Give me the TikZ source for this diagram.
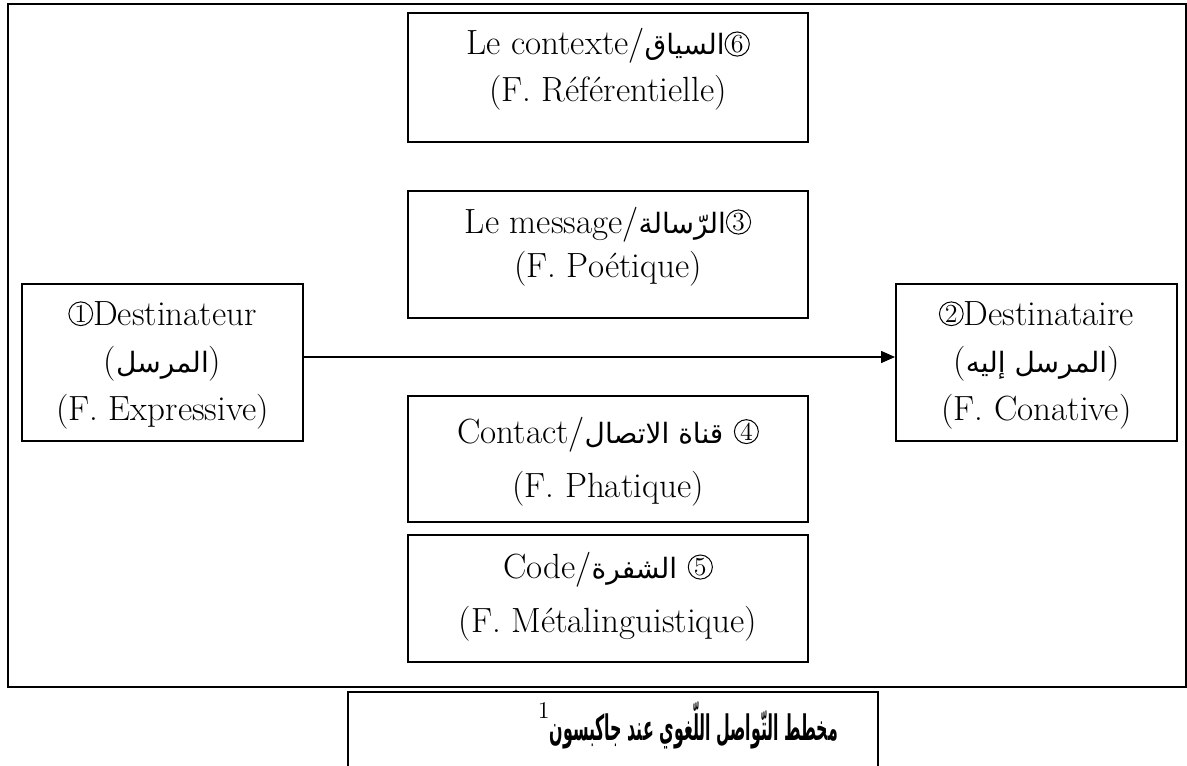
\documentclass[tikz,border=0pt]{standalone}
\usepackage{fontspec}
\usepackage{graphicx}
\usetikzlibrary{arrows.meta}
\TeXXeTstate=1
\newfontfamily\arabicfont[Script=Arabic,Scale=0.8]{DejaVu Sans}
\newfontfamily\capfont[Script=Arabic]{DejaVu Sans}
\newcommand\ar[1]{{\arabicfont\beginR #1\endR}}
% circled figure drawn as a small ring round a digit
\newcommand\cn[1]{\tikz[baseline={([yshift=-1.3pt]cnum.base)}]\node[circle, draw,
  line width=0.5pt, inner sep=0.4pt, font=\fontsize{13}{13}\selectfont] (cnum) {#1};}

\begin{document}
\begin{tikzpicture}[x=0.5pt,y=-0.5pt,
  box/.style={draw, line width=1pt, inner sep=0pt},
  txt/.style={inner sep=0pt, anchor=base, font=\fontsize{17.5}{20}\selectfont},
  link/.style={line width=0.75pt, -{Triangle[length=7pt,width=6pt]}}]
\useasboundingbox (0,0) rectangle (1187,765);

% outer frame
\draw[line width=1pt] (8,4) rectangle (1186,687);

% boxes of the six factors
\node[box, minimum width=200pt, minimum height=64.5pt] (ctx) at (608,77.5) {};
\node[box, minimum width=200pt, minimum height=63.5pt] (msg) at (608,254.5) {};
\node[box, minimum width=140.5pt, minimum height=78.5pt] (src) at (162.5,362.5) {};
\node[box, minimum width=140.5pt, minimum height=78.5pt] (dst) at (1036.5,362.5) {};
\node[box, minimum width=200pt, minimum height=63pt] (cnt) at (608,459) {};
\node[box, minimum width=200pt, minimum height=63.5pt] (code) at (608,598.5) {};

% texts, one node per line
\node[txt] (ctx1) at (608,55) {Le contexte/\ar{السياق}\cn{6}};
\node[txt] (ctx2) at (608,102) {(F. Référentielle)};
\node[txt] (msg1) at (608,233) {Le message/\ar{الرّسالة}\cn{3}};
\node[txt] (msg2) at (608,277) {(F. Poétique)};
\node[txt] (src1) at (162.5,325) {\cn{1}Destinateur};
\node[txt] (src2) at (162.5,372) {(\ar{المرسل})};
\node[txt] (src3) at (162.5,420) {(F. Expressive)};
\node[txt] (dst1) at (1036.5,325) {\cn{2}Destinataire};
\node[txt] (dst2) at (1036.5,372) {(\ar{المرسل إليه})};
\node[txt] (dst3) at (1036.5,420) {(F. Conative)};
\node[txt] (cnt1) at (608,443) {Contact/\ar{قناة الاتصال} \cn{4}};
\node[txt] (cnt2) at (608,497) {(F. Phatique)};
\node[txt] (code1) at (608,578) {Code/\ar{الشفرة} \cn{5}};
\node[txt] (code2) at (608,632) {(F. Métalinguistique)};

% sender to receiver
\draw[link] ([yshift=2.75pt]src.east) -- ([yshift=2.75pt]dst.west);

% caption
\node[box, minimum width=265pt, minimum height=37.5pt] (cap) at (613,729.5) {};
\node[txt] (captxt) at (688,740)
  {\raisebox{11pt}{\fontsize{12}{12}\selectfont 1}\scalebox{0.72}[1.6]{\capfont\fontsize{11}{12}\selectfont\bfseries\beginR مخطط التّواصل اللّغوي عند جاكبسون\endR}};
\end{tikzpicture}
\end{document}
